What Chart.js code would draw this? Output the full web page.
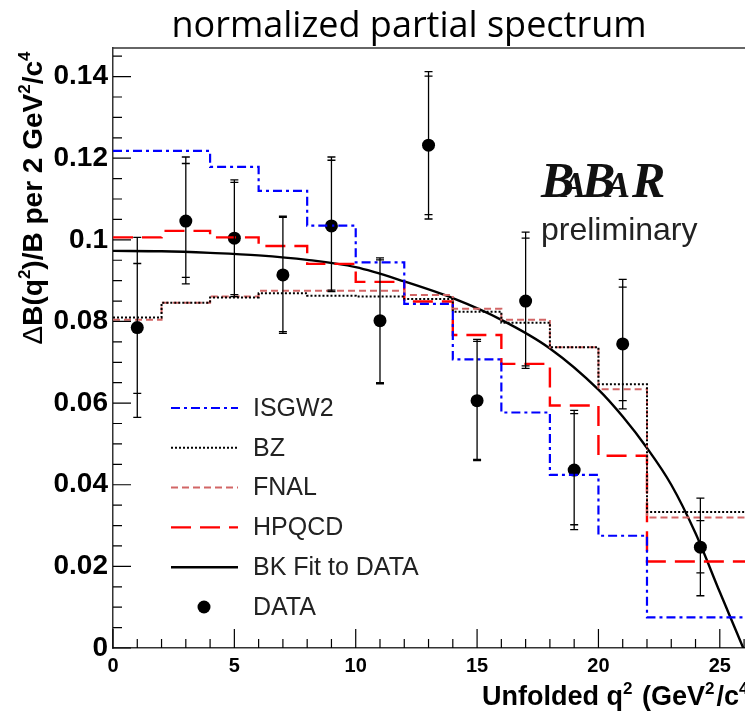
<!DOCTYPE html>
<html><head><meta charset="utf-8">
<script src="https://cdn.jsdelivr.net/npm/chart.js@4"></script>
<style>html,body{margin:0;padding:0;background:#fff;overflow:hidden;width:745px;height:713px}canvas{display:block}</style>
</head><body>
<canvas id="c" width="753" height="713"></canvas>
<script>
// ---- data ----
// q^2 bin edges (last bin runs past the visible frame)
const binEdges = [0, 2, 4, 6, 8, 10, 12, 14, 16, 18, 20, 22, 26.4];
// model predictions per bin
const isgw2 = [0.1218, 0.1218, 0.1179, 0.1120, 0.1035, 0.0945, 0.0843, 0.0707, 0.0577, 0.0424, 0.0275, 0.0075];
const bz    = [0.0810, 0.0846, 0.0859, 0.0869, 0.0863, 0.0861, 0.0855, 0.0824, 0.0797, 0.0737, 0.0646, 0.0333];
const fnal  = [0.0804, 0.0846, 0.0861, 0.0875, 0.0875, 0.0875, 0.0865, 0.0831, 0.0804, 0.0737, 0.0634, 0.0320];
const hpqcd = [0.1006, 0.1022, 0.1006, 0.0985, 0.0941, 0.0897, 0.0849, 0.0767, 0.0696, 0.0594, 0.0471, 0.0212];
// BK fit curve samples
const fitX = [0, 2, 4, 6, 8, 10, 12, 14, 16, 18, 20, 21, 22, 23, 24, 25, 26, 26.4];
const fitY = [0.0973, 0.0972, 0.0968, 0.0962, 0.0951, 0.0933, 0.0898, 0.0857, 0.0804, 0.0734, 0.0633, 0.0567, 0.0490, 0.0400, 0.0281, 0.0137, -0.0005, -0.0065];
// unfolded data with stat (inner) and total (outer) error limits
const dataX    = [1, 3, 5, 7, 9, 11, 13, 15, 17, 19, 21, 24.2];
const dataY    = [0.0785, 0.1046, 0.1004, 0.0914, 0.1034, 0.0802, 0.1232, 0.0606, 0.0850, 0.0436, 0.0745, 0.0247];
const totHi    = [0.1006, 0.1203, 0.1147, 0.1058, 0.1203, 0.0956, 0.1412, 0.0756, 0.1019, 0.0582, 0.0903, 0.0367];
const statHi   = [0.0942, 0.1187, 0.1141, 0.1055, 0.1195, 0.0951, 0.1401, 0.0751, 0.1004, 0.0574, 0.0884, 0.0312];
const statLo   = [0.0624, 0.0908, 0.0866, 0.0775, 0.0877, 0.0650, 0.1062, 0.0462, 0.0691, 0.0302, 0.0606, 0.0184];
const totLo    = [0.0565, 0.0892, 0.0861, 0.0771, 0.0873, 0.0647, 0.1051, 0.0459, 0.0685, 0.0290, 0.0586, 0.0128];
const legendLabels = ['ISGW2', 'BZ', 'FNAL', 'HPQCD', 'BK Fit to DATA', 'DATA'];
const xTicks = [0, 5, 10, 15, 20, 25];
const yTicks = [0, 0.02, 0.04, 0.06, 0.08, 0.1, 0.12, 0.14];

const SANS = '"Liberation Sans", Arial, sans-serif';
const steps = vals => binEdges.map((e, i) => ({ x: e, y: vals[Math.min(i, vals.length - 1)] }));

// line looks, shared by plot and legend
const looks = [
  { color: '#0000ff', dash: [9, 4, 3, 4], width: 2.2 },
  { color: '#000000', dash: [2, 2], width: 2 },
  { color: '#d26666', dash: [7, 4], width: 2 },
  { color: '#ff0000', dash: [20, 9], width: 2.4 },
  { color: '#000000', dash: [], width: 2.4 },
];

// text with superscripts; parts = [[str, isSup, weight?], ...]
function richText(ctx, parts, x, y, size, weight, supGap = 0) {
  let cx = x;
  parts.forEach(([s, sup, w]) => {
    const fs = sup ? Math.round(size * 0.62) : size;
    ctx.font = `${w || weight} ${fs}px ${SANS}`;
    ctx.fillText(s, cx, sup ? y - size * 0.42 : y);
    cx += ctx.measureText(s).width + (sup ? supGap : 0);
  });
  return cx - x;
}
function richWidth(ctx, parts, size, weight) {
  let w = 0;
  parts.forEach(([s, sup, ww]) => {
    ctx.font = `${ww || weight} ${sup ? Math.round(size * 0.62) : size}px ${SANS}`;
    w += ctx.measureText(s).width;
  });
  return w;
}

const decor = {
  id: 'decor',
  afterDatasetsDraw(chart) {
    const { ctx, chartArea: a, scales: { x, y } } = chart;
    ctx.save();
    ctx.beginPath(); ctx.rect(a.left, a.top, a.right - a.left, a.bottom - a.top); ctx.clip();
    ctx.strokeStyle = '#000'; ctx.lineWidth = 1.3; ctx.setLineDash([]);
    dataX.forEach((v, i) => {
      const px = x.getPixelForValue(v);
      ctx.beginPath();
      ctx.moveTo(px, y.getPixelForValue(totLo[i])); ctx.lineTo(px, y.getPixelForValue(totHi[i]));
      [totLo[i], totHi[i], statLo[i], statHi[i]].forEach(e => {
        const py = y.getPixelForValue(e);
        ctx.moveTo(px - 4, py); ctx.lineTo(px + 4, py);
      });
      ctx.stroke();
    });
    ctx.restore();
  },
  afterDraw(chart) {
    const { ctx, chartArea: a, scales: { x, y } } = chart;
    ctx.save();
    // top frame line
    ctx.strokeStyle = '#333'; ctx.lineWidth = 1.5;
    ctx.beginPath(); ctx.moveTo(a.left, a.top); ctx.lineTo(a.right, a.top); ctx.stroke();
    // inward ticks
    ctx.strokeStyle = '#000'; ctx.lineWidth = 1.2;
    ctx.beginPath();
    for (let k = 0; k <= 29; k++) {
      const py = y.getPixelForValue(k * 0.005);
      const len = k % 4 === 0 ? 18 : 9;
      ctx.moveTo(a.left, py); ctx.lineTo(a.left + len, py);
    }
    for (let k = 0; k <= 26; k++) {
      const px = x.getPixelForValue(k);
      const len = k % 5 === 0 ? 19 : 9;
      ctx.moveTo(px, a.bottom); ctx.lineTo(px, a.bottom - len);
    }
    ctx.stroke();

    // title
    ctx.fillStyle = '#000';
    ctx.font = '36px "Open Sans", sans-serif';
    ctx.textAlign = 'center'; ctx.textBaseline = 'alphabetic';
    ctx.fillText('normalized partial spectrum', 409, 37);

    // axis titles
    ctx.textAlign = 'left';
    const yt = [['\u0394', false, 'normal'], ['B(q', false], ['2', true], [')/B per 2 GeV', false], ['2', true], ['/c', false], ['4', true]];
    ctx.save();
    ctx.translate(42, 198);
    ctx.rotate(-Math.PI / 2);
    const w = richWidth(ctx, yt, 28, 'bold');
    richText(ctx, yt, -w / 2, 0, 28, 'bold');
    ctx.restore();
    const xt = [['Unfolded q', false], ['2', true], [' (GeV', false], ['2', true], ['/c', false], ['4', true], [')', false]];
    richText(ctx, xt, 482, 705, 27, 'bold', 2);

    // BABAR logo + preliminary
    ctx.fillStyle = '#111';
    const serifB = 'italic bold 50px "Liberation Serif", serif';
    const serifA = 'italic bold 36px "Liberation Serif", serif';
    [['B', 0, serifB], ['A', 21, serifA], ['B', 41, serifB], ['A', 65, serifA], ['R', 91, serifB]].forEach(([c, dx, f]) => {
      ctx.font = f; ctx.fillText(c, 541 + dx, 197);
    });
    ctx.fillStyle = '#222';
    ctx.font = `32px ${SANS}`;
    ctx.fillText('preliminary', 541, 240);

    // legend
    ctx.font = `25px ${SANS}`;
    ctx.textBaseline = 'middle';
    legendLabels.forEach((lab, i) => {
      const ly = 408 + i * 39.8;
      if (i < looks.length) {
        const s = looks[i];
        ctx.strokeStyle = s.color; ctx.lineWidth = s.width; ctx.setLineDash(s.dash);
        ctx.beginPath(); ctx.moveTo(171, ly); ctx.lineTo(238, ly); ctx.stroke();
      } else {
        ctx.fillStyle = '#000';
        ctx.beginPath(); ctx.arc(204, ly, 6.5, 0, Math.PI * 2); ctx.fill();
      }
      ctx.fillStyle = '#222';
      ctx.fillText(lab, 253, ly + 1);
    });
    ctx.restore();
  }
};

const hist = (vals, s) => ({
  data: steps(vals), borderColor: s.color, borderWidth: s.width, borderDash: s.dash,
  stepped: 'before', pointRadius: 0, fill: false
});

new Chart(document.getElementById('c'), {
  type: 'line',
  data: {
    datasets: [
      hist(isgw2, looks[0]),
      hist(bz, looks[1]),
      hist(fnal, looks[2]),
      hist(hpqcd, looks[3]),
      { data: fitX.map((v, i) => ({ x: v, y: fitY[i] })), borderColor: looks[4].color, borderWidth: looks[4].width,
        cubicInterpolationMode: 'monotone', pointRadius: 0, fill: false },
      { data: dataX.map((v, i) => ({ x: v, y: dataY[i] })), showLine: false, pointRadius: 6.5,
        pointBackgroundColor: '#000', pointBorderColor: '#000', pointBorderWidth: 0 }
    ]
  },
  options: {
    responsive: false, animation: false, devicePixelRatio: 1,
    layout: { padding: { top: 48, left: 0, right: 0, bottom: 0 } },
    plugins: { legend: { display: false }, tooltip: { enabled: false } },
    scales: {
      x: {
        type: 'linear', min: 0, max: 26.1,
        grid: { display: false, drawTicks: false },
        border: { display: true, color: '#333', width: 1.5 },
        afterBuildTicks: s => { s.ticks = xTicks.map(v => ({ value: v })); },
        ticks: { autoSkip: false, maxRotation: 0, padding: 6, color: '#000', font: { family: SANS, size: 20, weight: 'bold' } },
        afterFit: s => { s.height = 65; }
      },
      y: {
        min: 0, max: 0.147,
        grid: { display: false, drawTicks: false },
        border: { display: true, color: '#333', width: 1.5 },
        afterBuildTicks: s => { s.ticks = yTicks.map(v => ({ value: v })); },
        ticks: { autoSkip: false, padding: 5, color: '#000', font: { family: SANS, size: 28, weight: 'bold' },
          callback: v => String(Number(v.toFixed(2))) },
        afterFit: s => { s.width = 113; }
      }
    }
  },
  plugins: [decor]
});
</script>
</body></html>
